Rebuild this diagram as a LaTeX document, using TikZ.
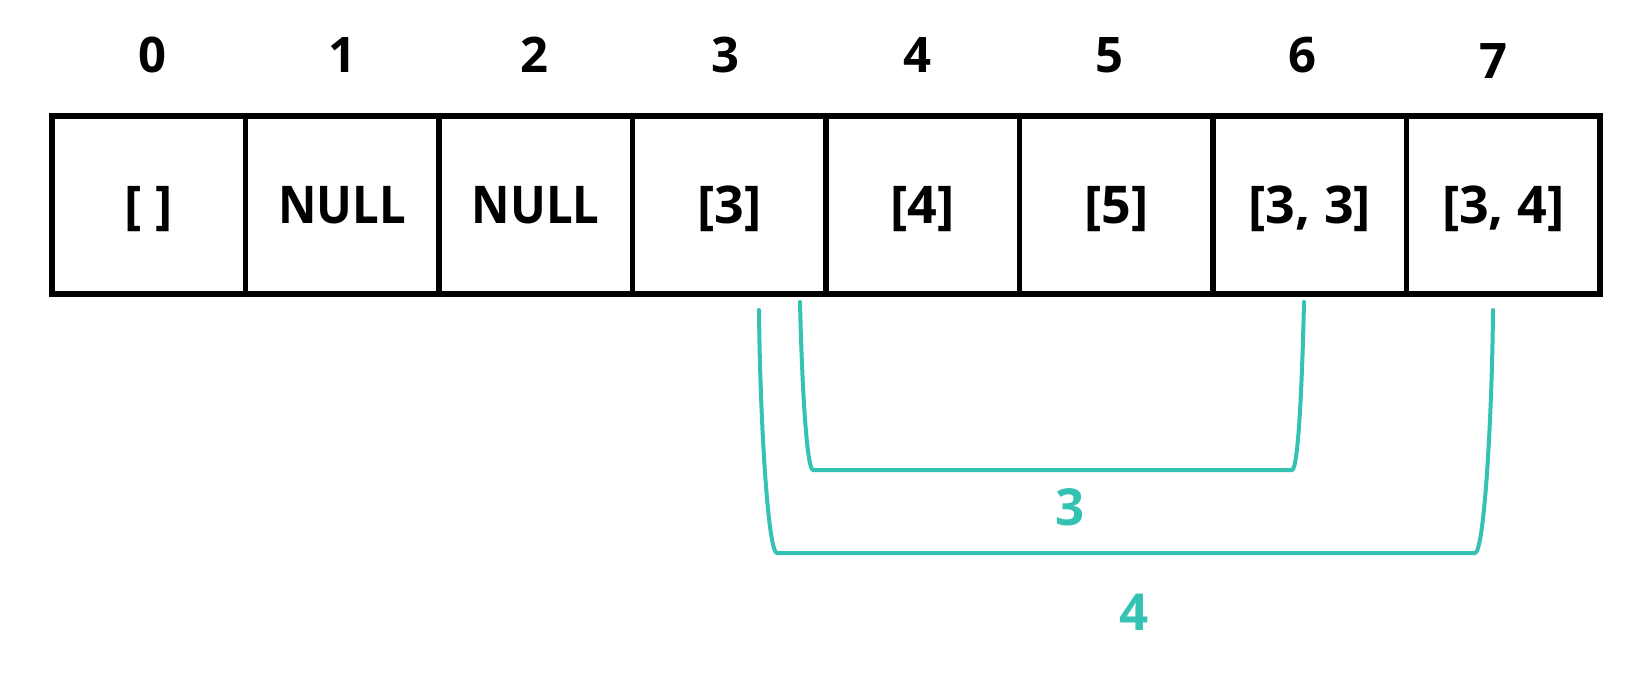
\documentclass[tikz,border=0pt]{standalone}
\usepackage{fontspec}
\setmainfont{Open Sans}
\newfontfamily\narrowfont[FakeStretch=0.91]{Open Sans}
\definecolor{teal2}{RGB}{52,194,178}
\begin{document}
\begin{tikzpicture}[x=1pt,y=-1pt,
  cell/.style={draw=black,line width=5.5pt,minimum width=193.5pt,minimum height=178pt,inner sep=0pt,
    text height=37pt,text depth=0pt,font=\fontsize{52}{60}\selectfont\bfseries},
  idx/.style={anchor=base,inner sep=0pt,font=\fontsize{49}{58}\selectfont\bfseries},
  brace/.style={draw=teal2,line width=4pt,line cap=round},
  blabel/.style={text=teal2,inner sep=0pt,font=\fontsize{51}{58}\selectfont\bfseries}]
\useasboundingbox (0,0) rectangle (1646,672);
\node[cell] (c0) at (148.75,205) {[ ]};
\node[cell] (c1) at (342.25,205) {\narrowfont NULL};
\node[cell] (c2) at (535.75,205) {\narrowfont NULL};
\node[cell] (c3) at (729.25,205) {[3]};
\node[cell] (c4) at (922.75,205) {[4]};
\node[cell] (c5) at (1116.25,205) {[5]};
\node[cell] (c6) at (1309.75,205) {[3, 3]};
\node[cell] (c7) at (1503.25,205) {[3, 4]};
\node[idx] (i0) at (152,72) {0};
\node[idx] (i1) at (342,72) {1};
\node[idx] (i2) at (534,72) {2};
\node[idx] (i3) at (725,72) {3};
\node[idx] (i4) at (917,72) {4};
\node[idx] (i5) at (1109,72) {5};
\node[idx] (i6) at (1302,72) {6};
\node[idx] (i7) at (1493,78) {7};
\coordinate (a1) at (800,302);
\coordinate (a2) at (1304,302);
\coordinate (b1) at (759,310);
\coordinate (b2) at (1493,310);
\draw[brace] (a1) .. controls (802,390) and (807,470) .. (813,470) -- (1292,470) .. controls (1298,470) and (1302,390) .. (a2);
\draw[brace] (b1) .. controls (760,420) and (768,553) .. (777,553) -- (1475,553) .. controls (1484,553) and (1492,420) .. (b2);
\node[blabel] (l3) at (1070,507.5) {3};
\node[blabel] (l4) at (1134,612) {4};
\end{tikzpicture}
\end{document}
